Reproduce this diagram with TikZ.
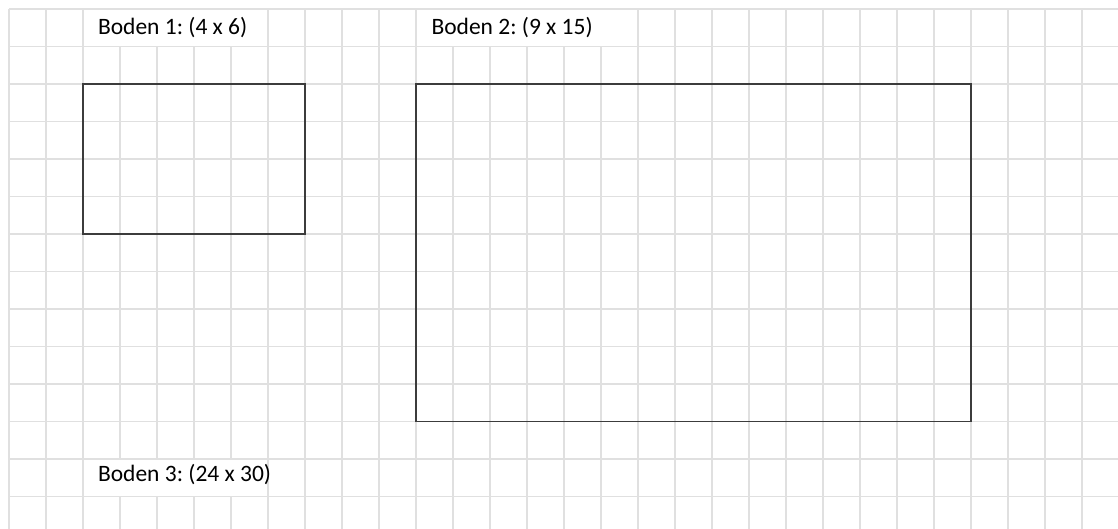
\documentclass[tikz,border=0pt]{standalone}
\usepackage{fontspec}
\setmainfont{Carlito}
\frenchspacing
\definecolor{gridgrey}{HTML}{E0E0E0}
\definecolor{boxgrey}{HTML}{3C3C3C}
\tikzset{
  gridline/.style={draw=gridgrey, line width=1.4pt},
  floorbox/.style={draw=boxgrey, line width=1.5pt},
  label/.style={anchor=base west, inner sep=0pt, outer sep=0pt, text=black, font=\fontsize{23.5}{28}\selectfont}
}
\begin{document}
\begin{tikzpicture}[x=1pt,y=-1pt]
\useasboundingbox (0,0) rectangle (1118,529);
\fill[white] (0,0) rectangle (1118,529);
% horizontal grid lines
\foreach \k in {0,...,13}
  \draw[gridline] (9,{9+37.5*\k}) -- (1118,{9+37.5*\k});
% vertical grid lines, full height
\foreach \k in {0,1,2,7,8,9,10,11,17,18,19,20,21,22,23,24,25,26,27,28,29}
  \draw[gridline] ({9+37*\k},9) -- ({9+37*\k},529);
% vertical lines interrupted by merged cell "Boden 2"
\foreach \k in {12,...,16}
  \draw[gridline] ({9+37*\k},46.5) -- ({9+37*\k},529);
% vertical lines interrupted by merged cells "Boden 1" and "Boden 3"
\foreach \k in {3,...,6} {
  \draw[gridline] ({9+37*\k},46.5) -- ({9+37*\k},459);
  \draw[gridline] ({9+37*\k},496.5) -- ({9+37*\k},529);
}
% floor rectangles
\draw[floorbox] (83,84) rectangle (305,234);
\draw[floorbox] (416,84) rectangle (971,421.5);
% labels
\node[label] (b1) at (98,35) {Boden 1: (4 x 6)};
\node[label] (b2) at (431.5,35) {Boden 2: (9 x 15)};
\node[label] (b3) at (98,481) {Boden 3: (24 x 30)};
\end{tikzpicture}
\end{document}
